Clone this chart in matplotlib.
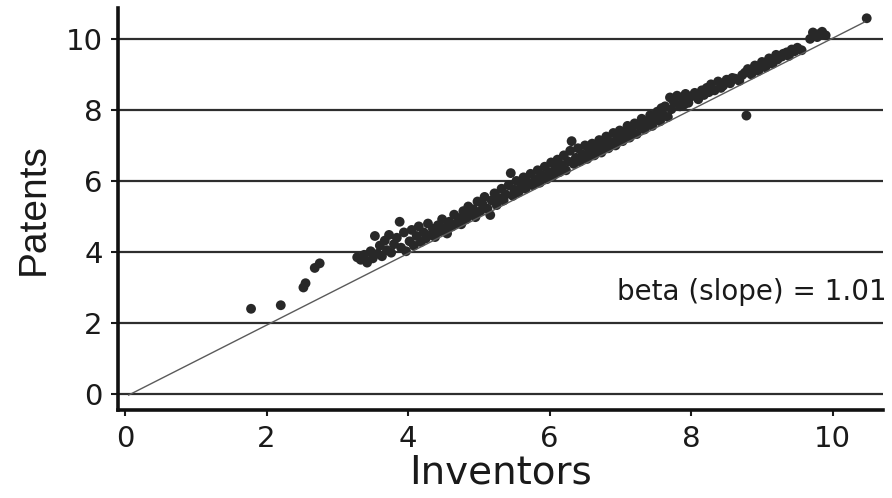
import matplotlib
matplotlib.use("Agg")
import matplotlib.pyplot as plt
import numpy as np

# Log-scaled counts per region: inventors (x) vs patents (y)
outlier_inventors = [1.78, 2.20, 2.52, 2.55, 2.68, 2.75, 5.16, 8.78, 10.48]
outlier_patents = [2.40, 2.50, 3.00, 3.12, 3.55, 3.68, 5.04, 7.84, 10.58]

inventors = [
    3.28, 3.33, 3.38, 3.42, 3.47, 3.50, 3.53, 3.57, 3.60, 3.63, 3.67, 3.70, 3.73, 3.76, 3.80, 3.84, 3.88, 3.90, 3.94, 3.97,
    4.02, 4.05, 4.08, 4.12, 4.15, 4.18, 4.22, 4.25, 4.28, 4.32, 4.35, 4.38, 4.42, 4.45, 4.48, 4.52, 4.55, 4.58, 4.62, 4.65,
    4.68, 4.72, 4.75, 4.78, 4.82, 4.85, 4.88, 4.92, 4.95, 4.98,
    5.02, 5.05, 5.08, 5.12, 5.18, 5.22, 5.25, 5.28, 5.32, 5.35, 5.38, 5.42, 5.45, 5.48, 5.50, 5.53, 5.56, 5.60, 5.63, 5.66,
    5.70, 5.73, 5.76, 5.80, 5.83, 5.86, 5.90, 5.93, 5.96, 5.99,
    6.02, 6.05, 6.08, 6.11, 6.14, 6.17, 6.20, 6.23, 6.26, 6.29, 6.31, 6.34, 6.37, 6.40, 6.43, 6.46, 6.50, 6.53, 6.56, 6.60,
    6.63, 6.66, 6.70, 6.73, 6.76, 6.80, 6.83, 6.86, 6.90, 6.93, 6.96, 6.99,
    7.03, 7.06, 7.10, 7.13, 7.16, 7.20, 7.23, 7.27, 7.30, 7.34, 7.38, 7.42, 7.45, 7.49, 7.52, 7.56, 7.60, 7.63, 7.67, 7.70,
    7.72, 7.76, 7.80, 7.84, 7.88, 7.92, 7.96, 8.00, 7.58, 7.74, 7.90,
    8.05, 8.10, 8.15, 8.22, 8.28, 8.33, 8.38, 8.45, 8.50, 8.55, 8.62, 8.72, 8.80, 8.85, 8.90, 8.95, 9.00, 9.05,
    8.08, 8.18, 8.25, 8.42, 8.58, 8.68, 8.76, 8.88, 8.98,
    9.10, 9.15, 9.20, 9.28, 9.35, 9.42, 9.50, 9.56, 9.68, 9.72, 9.78, 9.85, 9.90,
    9.08, 9.22, 9.30, 9.38, 9.46, 9.75, 9.82,
]
patents = [
    3.85, 3.78, 3.92, 3.70, 4.02, 3.82, 4.45, 3.95, 4.18, 3.88, 4.32, 4.05, 4.48, 3.98, 4.22, 4.40, 4.85, 4.12, 4.55, 4.02,
    4.30, 4.62, 4.18, 4.45, 4.72, 4.28, 4.55, 4.38, 4.80, 4.48, 4.65, 4.42, 4.75, 4.58, 4.92, 4.68, 4.52, 4.85, 4.72, 5.05,
    4.80, 4.95, 4.78, 5.15, 4.92, 5.28, 5.05, 5.20, 4.98, 5.42,
    5.15, 5.35, 5.55, 5.22, 5.45, 5.65, 5.32, 5.52, 5.78, 5.45, 5.62, 5.88, 6.22, 5.58, 5.75, 6.00, 5.68, 5.85, 6.10, 5.78,
    5.95, 6.20, 5.88, 6.05, 6.30, 5.95, 6.15, 6.40, 6.05, 6.25,
    6.52, 6.15, 6.35, 6.60, 6.25, 6.45, 6.72, 6.30, 6.55, 6.85, 7.12, 6.48, 6.65, 6.92, 6.55, 6.75, 7.00, 6.62, 6.85, 7.05,
    6.72, 6.92, 7.15, 6.80, 7.02, 7.25, 6.92, 7.10, 7.35, 7.00, 7.20, 7.42,
    7.12, 7.35, 7.55, 7.22, 7.45, 7.62, 7.32, 7.55, 7.75, 7.45, 7.65, 7.85, 7.55, 7.75, 7.95, 7.68, 7.88, 8.10, 7.80, 8.35,
    8.02, 8.22, 8.40, 8.10, 8.30, 8.45, 8.20, 8.38, 8.05, 8.28, 8.15,
    8.48, 8.30, 8.55, 8.62, 8.72, 8.55, 8.80, 8.68, 8.85, 8.75, 8.88, 8.98, 9.15, 9.00, 9.25, 9.10, 9.35, 9.20,
    8.40, 8.42, 8.50, 8.62, 8.90, 8.82, 9.05, 9.12, 9.22,
    9.45, 9.30, 9.55, 9.50, 9.62, 9.70, 9.75, 9.68, 10.00, 10.18, 10.05, 10.20, 10.10,
    9.30, 9.42, 9.58, 9.52, 9.65, 10.12, 10.15,
]

# Fitted scaling relation
beta = 1.01
intercept = -0.08
fit_range = [0.05, 10.45]

x_ticks = [0, 2, 4, 6, 8, 10]
y_ticks = [0, 2, 4, 6, 8, 10]

fig = plt.figure(figsize=(8.92, 4.98), dpi=100)
ax = fig.add_axes([0.1323, 0.1767, 0.8576, 0.8073])

ink = "#1a1a1a"
ax.scatter(inventors + outlier_inventors, patents + outlier_patents,
           s=50, color="#282828", edgecolors="none", zorder=3)

fx = np.array(fit_range)
ax.plot(fx, beta * fx + intercept, color="#5a5a5a", lw=1.0, zorder=4)

ax.set_xlim(-0.1, 10.71)
ax.set_ylim(-0.45, 10.87)
ax.set_xticks(x_ticks)
ax.set_yticks(y_ticks)

ax.grid(axis="y", color="#2e2e2e", lw=1.6, zorder=1)
ax.set_axisbelow(True)

for side in ("top", "right"):
    ax.spines[side].set_visible(False)
for side in ("left", "bottom"):
    ax.spines[side].set_linewidth(2.6)
    ax.spines[side].set_color("#111111")

ax.tick_params(axis="y", length=5, width=1.5, pad=6, labelsize=21,
               colors=ink)
ax.tick_params(axis="x", length=4, width=1.5, pad=7, labelsize=21,
               colors=ink)
for lab in ax.get_xticklabels() + ax.get_yticklabels():
    lab.set_fontfamily("DejaVu Sans")

ax.set_xlabel("Inventors", fontsize=28, family="DejaVu Sans", color=ink,
              labelpad=0)
ax.set_ylabel("Patents", fontsize=28, family="Liberation Sans", color=ink,
              labelpad=10)

ax.text(10.76, 2.65, "beta (slope) = 1.01", ha="right", va="baseline",
        fontsize=20, family="DejaVu Sans", color=ink, clip_on=False)

fig.savefig("out.png", dpi=100)
